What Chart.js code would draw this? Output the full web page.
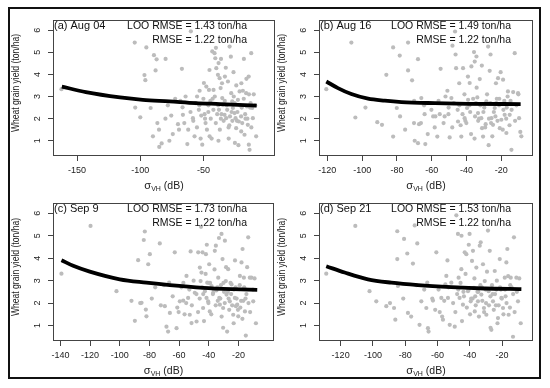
<!DOCTYPE html>
<html>
<head>
<meta charset="utf-8">
<script src="https://cdn.jsdelivr.net/npm/chart.js@4.4.0/dist/chart.umd.min.js"></script>
<style>
html, body { margin: 0; padding: 0; background: #fff; }
#wrap { position: relative; width: 550px; height: 388px; overflow: hidden; background: #fff; }
#frame { position: absolute; left: 8px; top: 7px; width: 533px; height: 372px; border: 2px solid #111; box-sizing: border-box; }
canvas { position: absolute; }
</style>
</head>
<body>
<div id="wrap">
  <div id="frame"></div>
  <canvas id="p0"></canvas>
  <canvas id="p1"></canvas>
  <canvas id="p2"></canvas>
  <canvas id="p3"></canvas>
</div>
<script>
// ---- data ----
var panelLabels = ['(a) Aug 04', '(b) Aug 16', '(c) Sep 9', '(d) Sep 21'];
var looRmse = ['1.43', '1.49', '1.73', '1.53'];
var rmse = ['1.22', '1.22', '1.22', '1.22'];

var yTicks = [1, 2, 3, 4, 5, 6];
var xTicksA = [-150, -100, -50];
var xTicksB = [-120, -100, -80, -60, -40, -20];
var xTicksC = [-140, -120, -100, -80, -60, -40, -20];
var xTicksD = [-120, -100, -80, -60, -40, -20];

// sigma VH (dB) and yield (ton/ha), per acquisition date
var aug04X = [-162.3, -104.4, -95.2, -89.2, -87.1, -80.0, -87.9, -67.1, -96.7, -96.0, -104.0, -100.0,
  -91.8, -86.5, -85.2, -90.0, -83.1, -85.0, -77.0, -75.5, -70.2, -69.4, -66.3, -62.8,
  -58.4, -57.1, -66.6, -53.1, -51.8, -51.0, -49.7, -47.8, -47.3, -45.7, -45.2, -43.1,
  -41.3, -40.7, -39.9, -38.1, -38.6, -37.3, -36.5, -35.2, -34.7, -33.4, -32.1, -30.7,
  -29.4, -28.1, -27.3, -26.8, -25.5, -24.7, -24.2, -22.8, -22.1, -21.5, -20.2, -18.9,
  -17.6, -16.3, -15.7, -15.0, -14.2, -13.6, -12.3, -11.5, -11.0, -8.4, -60.0,
  -60.3, -58.1, -56.4, -55.2, -53.7, -52.3, -50.1, -49.2, -48.4, -46.1, -44.3, -43.6,
  -42.2, -41.1, -40.3, -39.2, -38.4, -37.1, -36.3, -35.4, -34.1, -33.2, -32.4, -31.3,
  -30.2, -29.1, -28.4, -27.2, -26.1, -25.3, -24.1, -23.2, -22.4, -21.1, -20.3, -19.4,
  -18.2, -17.1, -16.1, -15.3, -14.1, -13.2, -12.2, -10.3, -9.2, -64.2, -62.1, -68.3,
  -72.4, -78.2, -80.1, -74.3, -65.2, -55.1, -45.3, -42.1, -40.2, -36.2, -33.1, -26.3,
  -20.1, -18.1, -14.3, -46.2, -38.2, -30.1, -25.2, -53.3,
  -44.6, -37.8, -31.7, -27.8, -23.6, -19.8, -16.8, -12.8, -35.8, -29.6, -48.8, -42.8];
var aug04Y = [3.33, 5.44, 5.22, 4.87, 4.68, 4.70, 4.18, 4.25, 3.97, 3.74, 2.50, 2.06,
  2.48, 1.80, 1.50, 1.20, 0.88, 0.72, 1.00, 2.14, 1.75, 1.50, 2.17, 0.85,
  2.02, 1.20, 2.51, 3.26, 2.14, 0.82, 3.61, 3.45, 1.50, 3.30, 1.20, 5.04,
  4.96, 4.73, 4.28, 4.51, 3.98, 3.83, 3.38, 2.93, 2.63, 2.17, 2.02, 3.68,
  5.26, 3.15, 2.78, 2.48, 2.25, 2.02, 1.57, 2.85, 1.87, 3.23, 1.42, 3.26,
  1.27, 3.15, 2.55, 1.72, 0.82, 0.59, 4.96, 2.48, 2.02, 1.20, 5.95,
  2.30, 1.90, 2.70, 1.60, 2.40, 1.10, 2.90, 2.20, 1.80, 2.60, 2.00, 1.10,
  2.40, 3.00, 1.80, 2.20, 2.60, 1.50, 2.00, 3.60, 1.90, 2.80, 4.30, 2.40,
  1.60, 2.10, 4.80, 1.90, 3.00, 2.70, 3.50, 2.30, 0.80, 2.60, 2.10, 1.80,
  2.90, 2.20, 3.80, 2.00, 3.10, 2.50, 1.60, 3.10, 2.60, 3.00, 1.50, 2.80,
  2.90, 2.60, 2.00, 1.30, 1.80, 3.00, 4.20, 3.30, 5.20, 4.70, 3.90, 4.10,
  3.60, 4.70, 3.90, 2.30, 1.00, 1.10, 0.90, 2.60,
  2.80, 2.40, 2.60, 2.30, 1.90, 2.50, 2.00, 2.70, 2.20, 1.70, 2.00, 2.90];

var aug16X = [-120.6, -106.2, -73.6, -82.2, -86.1, -78.4, -67.9, -73.6, -71.3, -98.1, -103.9, -91.3,
  -88.6, -82.2, -80.1, -70.2, -67.3, -69.8, -67.9, -63.7, -66.0, -64.4, -59.2, -57.9,
  -56.8, -54.9, -52.6, -51.0, -50.3, -49.7, -48.7, -46.6, -46.0, -44.9, -43.0, -42.0,
  -41.1, -39.7, -39.1, -38.2, -37.2, -35.7, -35.3, -34.3, -33.8, -33.4, -32.4, -31.5,
  -31.1, -30.5, -29.0, -28.6, -27.6, -26.7, -25.7, -24.8, -23.8, -22.9, -21.9, -20.9,
  -20.0, -19.0, -18.1, -17.1, -16.2, -15.2, -14.2, -12.3, -10.4, -9.8, -8.5,
  -60.2, -58.3, -56.1, -55.4, -53.2, -52.1, -50.4, -48.2, -47.3, -45.1, -44.2, -43.4,
  -42.3, -41.2, -40.1, -38.3, -37.4, -36.2, -35.1, -34.2, -33.3, -32.1, -31.2, -30.3,
  -29.3, -28.2, -27.1, -26.3, -25.2, -24.3, -23.1, -22.2, -21.3, -20.4, -19.2, -18.3,
  -17.2, -16.4, -15.3, -14.1, -13.2, -12.1, -11.3, -10.2, -9.1, -64.1, -62.3, -66.2,
  -70.1, -75.3, -78.2, -46.3, -39.2, -26.2, -48.1, -21.2, -35.4, -27.3,
  -44.1, -37.9, -32.8, -29.8, -25.9, -22.6, -18.8, -14.7, -40.7, -34.6, -23.4, -16.9];
var aug16Y = [3.33, 5.44, 5.44, 5.22, 3.98, 4.85, 4.69, 4.18, 3.73, 2.50, 2.05, 1.84,
  1.72, 1.19, 2.48, 1.80, 1.75, 1.00, 0.89, 0.85, 2.93, 2.60, 2.10, 2.10,
  1.19, 4.25, 2.10, 3.26, 2.50, 1.15, 2.93, 5.94, 4.28, 1.87, 1.19, 4.28,
  2.02, 2.48, 2.85, 3.61, 4.36, 5.01, 4.58, 4.81, 2.96, 2.25, 3.79, 2.02,
  1.57, 1.19, 1.75, 2.78, 5.26, 4.16, 2.02, 1.72, 2.48, 2.70, 3.83, 1.57,
  1.95, 3.76, 2.17, 1.35, 3.23, 2.17, 0.59, 4.96, 3.15, 2.02, 1.20,
  2.40, 1.60, 2.80, 2.20, 1.80, 3.00, 2.20, 1.60, 2.70, 2.40, 3.60, 1.70,
  2.20, 3.10, 1.80, 2.60, 1.30, 2.90, 2.10, 3.40, 1.90, 2.60, 4.40, 2.30,
  1.60, 3.10, 2.00, 2.70, 1.20, 2.30, 3.60, 1.90, 2.60, 4.10, 1.50, 2.80,
  2.00, 3.00, 1.70, 2.40, 3.20, 1.90, 2.60, 3.10, 1.40, 2.20, 1.30, 1.80,
  2.80, 1.50, 2.10, 4.90, 3.90, 4.90, 5.30, 2.90, 1.10, 0.80,
  2.60, 2.30, 2.00, 2.50, 1.80, 2.90, 2.40, 2.80, 1.90, 2.70, 2.10, 2.50];

var sep09X = [-139.3, -119.7, -102.2, -89.8, -87.6, -85.3, -83.8, -83.1, -80.8, -79.7, -82.4, -82.0,
  -73.0, -69.6, -68.5, -67.4, -66.7, -66.2, -62.9, -61.7, -59.5, -57.2, -55.0, -53.9,
  -52.8, -51.6, -49.4, -48.2, -47.1, -46.0, -45.5, -44.9, -44.2, -43.8, -42.6, -41.9,
  -41.5, -41.0, -40.4, -39.7, -39.3, -38.1, -37.0, -35.9, -35.2, -34.8, -33.6, -32.9,
  -32.5, -31.4, -30.7, -30.3, -29.1, -28.5, -28.0, -27.6, -26.9, -25.8, -24.6, -23.5,
  -22.4, -21.7, -20.8, -20.1, -19.0, -17.9, -17.2, -16.3, -15.6, -15.0, -13.4, -12.3,
  -11.2, -10.0, -8.2,
  -64.3, -61.2, -58.4, -56.3, -55.2, -53.1, -51.4, -50.2, -48.3, -47.2, -46.1, -44.4,
  -43.2, -42.1, -40.2, -39.1, -38.3, -37.2, -36.1, -35.3, -34.2, -33.1, -32.2, -31.3,
  -30.1, -29.2, -28.3, -27.1, -26.2, -25.3, -24.2, -23.1, -22.3, -21.2, -20.3, -19.1,
  -18.2, -17.3, -16.1, -15.2, -14.1, -13.2, -12.1, -10.2, -9.1, -70.2, -72.3, -76.1,
  -78.4, -86.2, -92.1, -60.3, -45.2, -41.3, -30.3, -23.2, -52.2, -57.1,
  -43.7, -36.8, -33.9, -29.7, -26.6, -21.9, -18.7, -14.6, -39.8, -24.9, -31.8, -16.7];
var sep09Y = [3.31, 5.44, 2.53, 1.21, 3.91, 2.01, 4.81, 5.19, 3.73, 4.18, 1.71, 1.41,
  4.66, 1.86, 0.95, 0.73, 2.91, 1.56, 4.26, 0.88, 2.08, 2.11, 3.21, 2.23,
  1.48, 1.11, 2.46, 1.18, 4.26, 3.58, 2.98, 3.36, 4.26, 1.78, 2.53, 4.18,
  2.23, 2.91, 2.08, 3.73, 1.63, 2.76, 2.46, 4.33, 4.56, 2.56, 3.13, 2.23,
  1.93, 5.08, 3.96, 1.78, 4.78, 2.98, 2.38, 0.73, 3.51, 2.08, 2.83, 1.48,
  2.23, 1.86, 1.93, 1.41, 3.21, 3.81, 4.41, 3.13, 1.63, 0.55, 4.93, 3.13,
  3.13, 2.08, 1.10,
  2.30, 1.80, 2.70, 1.50, 2.00, 2.60, 1.90, 3.00, 2.40, 1.60, 2.20, 2.70,
  1.20, 3.30, 2.00, 2.90, 1.50, 2.40, 3.50, 1.90, 2.70, 4.90, 2.20, 1.40,
  2.90, 2.00, 3.60, 2.50, 1.70, 2.90, 1.90, 2.60, 3.90, 2.20, 1.70, 2.80,
  2.10, 1.30, 2.70, 2.20, 3.60, 2.00, 1.60, 2.60, 3.10, 2.80, 1.90, 2.70,
  2.20, 2.00, 2.10, 1.60, 5.40, 4.60, 0.90, 1.10, 4.30, 2.90,
  2.40, 2.60, 2.10, 2.50, 2.20, 2.70, 1.80, 2.40, 2.90, 2.40, 2.80, 2.10];

var sep21X = [-128.9, -110.9, -102.1, -97.9, -91.7, -86.9, -86.1, -84.9, -84.9, -84.5, -80.7, -78.7,
  -78.3, -75.2, -74.1, -72.5, -71.1, -70.0, -66.9, -66.3, -65.9, -65.5, -62.8, -60.7,
  -58.6, -57.6, -56.6, -55.1, -54.5, -53.5, -52.4, -51.4, -49.3, -48.3, -47.3, -46.9,
  -46.3, -45.2, -44.2, -43.1, -42.1, -41.1, -40.1, -39.4, -38.6, -38.0, -37.4, -36.9,
  -35.9, -34.9, -33.8, -33.2, -32.8, -31.8, -31.2, -30.7, -29.7, -28.7, -28.3, -27.6,
  -26.6, -25.6, -24.5, -23.5, -22.5, -21.4, -20.4, -19.4, -18.3, -17.3, -16.7, -15.9,
  -14.6, -13.2, -12.6, -11.1, -10.1, -8.4,
  -63.2, -61.4, -59.3, -57.1, -55.8, -53.2, -50.3, -48.9, -47.8, -45.7, -44.8, -43.6,
  -42.6, -41.8, -40.6, -39.8, -38.2, -37.1, -36.3, -35.2, -34.3, -33.4, -32.2, -31.1,
  -30.2, -29.3, -28.1, -27.2, -26.2, -25.1, -24.3, -23.2, -22.1, -21.2, -20.1, -19.1,
  -18.1, -17.2, -16.2, -15.1, -14.1, -13.1, -12.2, -10.8, -9.3, -68.2, -73.1, -76.3,
  -81.2, -89.4, -45.1, -40.6, -27.1, -22.8, -53.8,
  -43.9, -36.6, -32.5, -29.9, -25.8, -20.7, -17.8, -14.9, -39.1, -23.8, -34.7, -47.1];
var sep21Y = [3.31, 5.44, 2.53, 2.08, 1.86, 1.78, 1.26, 5.20, 3.96, 2.76, 4.86, 4.21,
  1.56, 3.76, 5.46, 4.66, 1.03, 2.08, 1.78, 2.91, 0.88, 0.73, 2.11, 4.26,
  1.60, 2.23, 1.26, 2.83, 3.21, 2.23, 1.03, 2.91, 0.95, 5.91, 5.08, 3.13,
  2.23, 3.51, 1.93, 4.26, 4.18, 2.53, 5.08, 2.08, 3.88, 4.33, 2.68, 1.63,
  3.58, 2.08, 4.56, 4.71, 2.38, 3.73, 1.78, 2.98, 1.48, 5.23, 2.53, 4.33,
  0.81, 2.08, 3.43, 2.60, 1.33, 3.96, 2.23, 1.78, 3.13, 3.81, 4.41, 1.48,
  3.13, 0.50, 4.93, 3.13, 2.08, 1.10,
  2.20, 1.70, 2.60, 1.40, 2.10, 2.70, 2.00, 1.60, 2.40, 2.90, 1.20, 2.30,
  3.30, 1.80, 2.60, 1.50, 2.20, 3.10, 1.90, 2.50, 1.40, 2.80, 2.10, 1.60,
  2.60, 3.40, 1.90, 2.30, 2.80, 1.70, 2.40, 3.00, 1.90, 2.70, 2.20, 1.50,
  2.60, 2.00, 3.20, 1.80, 2.70, 2.40, 1.60, 2.50, 3.10, 2.60, 2.80, 1.40,
  2.20, 2.00, 5.00, 4.60, 0.90, 1.10, 3.90,
  2.50, 2.30, 2.70, 2.00, 2.40, 2.60, 2.30, 2.80, 2.20, 1.90, 2.50, 2.60];

// fitted curves
var fitAX = [-162, -143, -116, -98, -77, -56, -37, -8];
var fitAY = [3.45, 3.20, 2.96, 2.85, 2.78, 2.70, 2.66, 2.59];
var fitBX = [-120.6, -113.9, -106.2, -96.6, -87, -77.4, -58.3, -39.2, -8.9];
var fitBY = [3.68, 3.38, 3.11, 2.90, 2.81, 2.75, 2.70, 2.67, 2.66];
var fitCX = [-139.3, -131.4, -120.2, -100, -82, -66.2, -43.7, -23.5, -7.3];
var fitCY = [3.91, 3.66, 3.40, 3.06, 2.91, 2.80, 2.68, 2.62, 2.59];
var fitDX = [-128.9, -117.5, -103.1, -88.6, -72.1, -51.4, -30.7, -8];
var fitDY = [3.64, 3.36, 3.06, 2.91, 2.80, 2.71, 2.65, 2.62];

// ---- layout ----
var FONT = '"Liberation Sans", Arial, Helvetica, sans-serif';
var PADL = 45, PADT = 12, PADR = 5, PADB = 40;
var boxes = [
  { l: 53, t: 20, r: 275, b: 156 },
  { l: 319, t: 20, r: 533, b: 156 },
  { l: 53, t: 203, r: 274, b: 341 },
  { l: 319, t: 203, r: 533, b: 341 }
];
var xLimits = [[-169, 6.5], [-124.8, -1.8], [-145, 4], [-133.4, -0.8]];
var rmseRight = [28, 22, 27, 22];

Chart.defaults.font.family = FONT;

function toPoints(xs, ys) {
  return xs.map(function (x, i) { return { x: x, y: ys[i] }; });
}

var panelText = {
  id: 'panelText',
  afterDraw: function (chart, args, opts) {
    var ctx = chart.ctx, a = chart.chartArea, ys = chart.scales.y;
    ctx.save();
    ctx.strokeStyle = '#444';
    ctx.lineWidth = 1;
    ctx.strokeRect(a.left + 0.5, a.top + 0.5, a.right - a.left - 1, a.bottom - a.top - 1);

    ctx.fillStyle = '#222';
    // rotated y tick labels
    ctx.font = '9px ' + FONT;
    ctx.textAlign = 'center';
    ctx.textBaseline = 'middle';
    yTicks.forEach(function (v) {
      var py = ys.getPixelForValue(v);
      ctx.save();
      ctx.translate(a.left - 15, py);
      ctx.rotate(-Math.PI / 2);
      ctx.fillText(String(v), 0, 0);
      ctx.restore();
    });
    // y title, a little condensed like the original
    ctx.save();
    ctx.font = '10px ' + FONT;
    var yt = 'Wheat grain yield (ton/ha)';
    var sx = 98 / ctx.measureText(yt).width;
    ctx.translate(a.left - 37, (a.top + a.bottom) / 2 - 5);
    ctx.rotate(-Math.PI / 2);
    ctx.scale(sx, 1);
    ctx.fillText(yt, 0, 0);
    ctx.restore();

    // x title: sigma with VH subscript
    var parts = [['σ', '11px '], ['VH', '7px '], [' (dB)', '10.5px ']];
    var total = 0;
    parts.forEach(function (p) { ctx.font = p[1] + FONT; total += ctx.measureText(p[0]).width; });
    var x = (a.left + a.right) / 2 - total / 2, base = a.bottom + 33;
    ctx.textAlign = 'left';
    ctx.textBaseline = 'alphabetic';
    parts.forEach(function (p, k) {
      ctx.font = p[1] + FONT;
      ctx.fillText(p[0], x, k === 1 ? base + 1.5 : base);
      x += ctx.measureText(p[0]).width;
    });

    // panel label and RMSE text
    ctx.fillStyle = '#111';
    ctx.textBaseline = 'middle';
    ctx.font = '11px ' + FONT;
    ctx.fillText(opts.label, a.left + 1, a.top + 6);
    ctx.textAlign = 'right';
    ctx.font = '10.5px ' + FONT;
    ctx.fillText('LOO RMSE = ' + opts.loo + ' ton/ha', a.right - opts.rr, a.top + 6);
    ctx.fillText('RMSE = ' + opts.rmse + ' ton/ha', a.right - opts.rr, a.top + 20);
    ctx.restore();
  }
};

function makePanel(i, xs, ys, fx, fy, xTicks) {
  var b = boxes[i];
  var cv = document.getElementById('p' + i);
  var w = b.r - b.l + PADL + PADR, h = b.b - b.t + PADT + PADB;
  cv.width = w; cv.height = h;
  cv.style.left = (b.l - PADL) + 'px';
  cv.style.top = (b.t - PADT) + 'px';
  cv.style.width = w + 'px';
  cv.style.height = h + 'px';

  new Chart(cv.getContext('2d'), {
    type: 'scatter',
    data: {
      datasets: [{
        data: toPoints(fx, fy),
        showLine: true,
        borderColor: '#000',
        borderWidth: 3.8,
        pointRadius: 0,
        cubicInterpolationMode: 'monotone',
        order: 0
      }, {
        data: toPoints(xs, ys),
        pointRadius: 2.1,
        pointBackgroundColor: '#bcbcbc',
        pointBorderWidth: 0,
        order: 1
      }]
    },
    options: {
      responsive: false,
      animation: false,
      devicePixelRatio: 1,
      layout: { padding: { left: 0, top: PADT, right: PADR, bottom: 0 } },
      plugins: {
        legend: { display: false },
        tooltip: { enabled: false },
        panelText: { label: panelLabels[i], loo: looRmse[i], rmse: rmse[i], rr: rmseRight[i] }
      },
      scales: {
        x: {
          type: 'linear',
          min: xLimits[i][0],
          max: xLimits[i][1],
          afterBuildTicks: function (s) { s.ticks = xTicks.map(function (v) { return { value: v }; }); },
          afterFit: function (s) { s.height = PADB; },
          border: { display: false },
          grid: { drawOnChartArea: false, drawTicks: true, tickLength: 5, color: '#444' },
          ticks: { font: { size: 9 }, color: '#222', padding: 4, maxRotation: 0, autoSkip: false }
        },
        y: {
          type: 'linear',
          min: 0.31,
          max: 6.46,
          afterBuildTicks: function (s) { s.ticks = yTicks.map(function (v) { return { value: v }; }); },
          afterFit: function (s) { s.width = PADL; },
          border: { display: false },
          grid: { drawOnChartArea: false, drawTicks: true, tickLength: 5, color: '#444' },
          ticks: { display: false }
        }
      }
    },
    plugins: [panelText]
  });
}

makePanel(0, aug04X, aug04Y, fitAX, fitAY, xTicksA);
makePanel(1, aug16X, aug16Y, fitBX, fitBY, xTicksB);
makePanel(2, sep09X, sep09Y, fitCX, fitCY, xTicksC);
makePanel(3, sep21X, sep21Y, fitDX, fitDY, xTicksD);
</script>
</body>
</html>
